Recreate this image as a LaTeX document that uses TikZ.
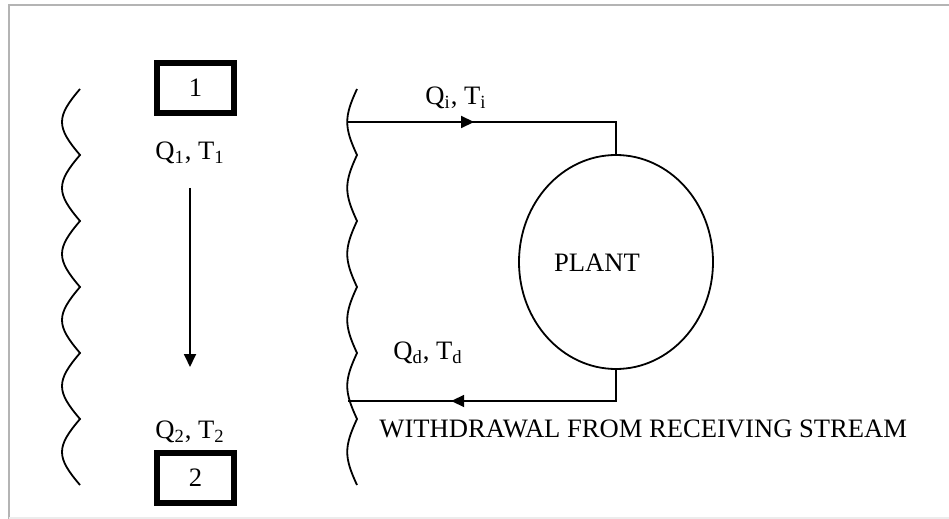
\documentclass[tikz,border=0pt]{standalone}
\usepackage{fontspec}
\setmainfont{Liberation Serif}
\usetikzlibrary{shapes.geometric,arrows.meta,decorations.markings}
\definecolor{framegray}{HTML}{B4B4B4}
\definecolor{framelight}{HTML}{ECECEC}

\tikzset{
    stationbox/.style={draw, line width=3.3pt, minimum width=38.5pt,
        minimum height=25pt, inner sep=0pt},
    bank/.style={line width=0.9pt},
    flowline/.style={line width=0.9pt},
    flowtip/.style={-{Triangle[length=6.5pt,width=6pt]}},
    midtip/.style={postaction={decorate}, decoration={markings,
        mark=at position #1 with {\arrow{Triangle[length=6.5pt,width=6pt]}}}},
    lbl/.style={inner sep=1pt, font=\fontsize{13.3}{15}\selectfont},
}

\begin{document}
\begin{tikzpicture}[x={(0.5pt,0)}, y={(0,-0.5pt)}]
        \useasboundingbox (0,0) rectangle (949,519);
        % page frame
        \draw[framegray, line width=1pt] (9,519) -- (9,5) -- (949,5);
        \draw[framelight, line width=1pt] (9,518) -- (949,518);

        % river banks
        \draw[bank] (80,89) \foreach \k in {0,...,5}{
            .. controls (56,117+66*\k) and (56,127+66*\k) .. (80,155+66*\k)
        };
        \draw[bank] (357,89) \foreach \k in {0,...,5}{
            .. controls (344,117+66*\k) and (344,127+66*\k) .. (357,155+66*\k)
        };

        % stream stations
        \node[stationbox, lbl] (st1) at (195.5,88) {1};
        \node[stationbox, lbl] (st2) at (195.5,478) {2};
        \node[lbl] (q1) at (190,153) {Q\textsubscript{1}, T\textsubscript{1}};
        \node[lbl] (q2) at (190,432) {Q\textsubscript{2}, T\textsubscript{2}};
        \coordinate (down1) at (190,188);
        \coordinate (down2) at (190,367);
        \draw[flowline, flowtip] (down1) -- (down2);

        % plant loop
        \node[draw, ellipse, line width=0.9pt, minimum width=97pt,
            minimum height=107pt, inner sep=0pt] (plant) at (616,262) {};
        \node[lbl] (plantlbl) at (597,263) {PLANT};
        \coordinate (inlet) at (348,122);
        \coordinate (outlet) at (348,401);
        \draw[flowline, midtip=0.42] (inlet) -| (plant.north);
        \draw[flowline, midtip=0.655] (plant.south) |- (outlet);
        \node[lbl] (qi) at (456,98) {Q\textsubscript{i}, T\textsubscript{i}};
        \node[lbl] (qd) at (428,353) {Q\textsubscript{d}, T\textsubscript{d}};
        \node[lbl, anchor=west] (withdraw) at (377,429) {WITHDRAWAL FROM RECEIVING STREAM};
    \end{tikzpicture}
\end{document}
